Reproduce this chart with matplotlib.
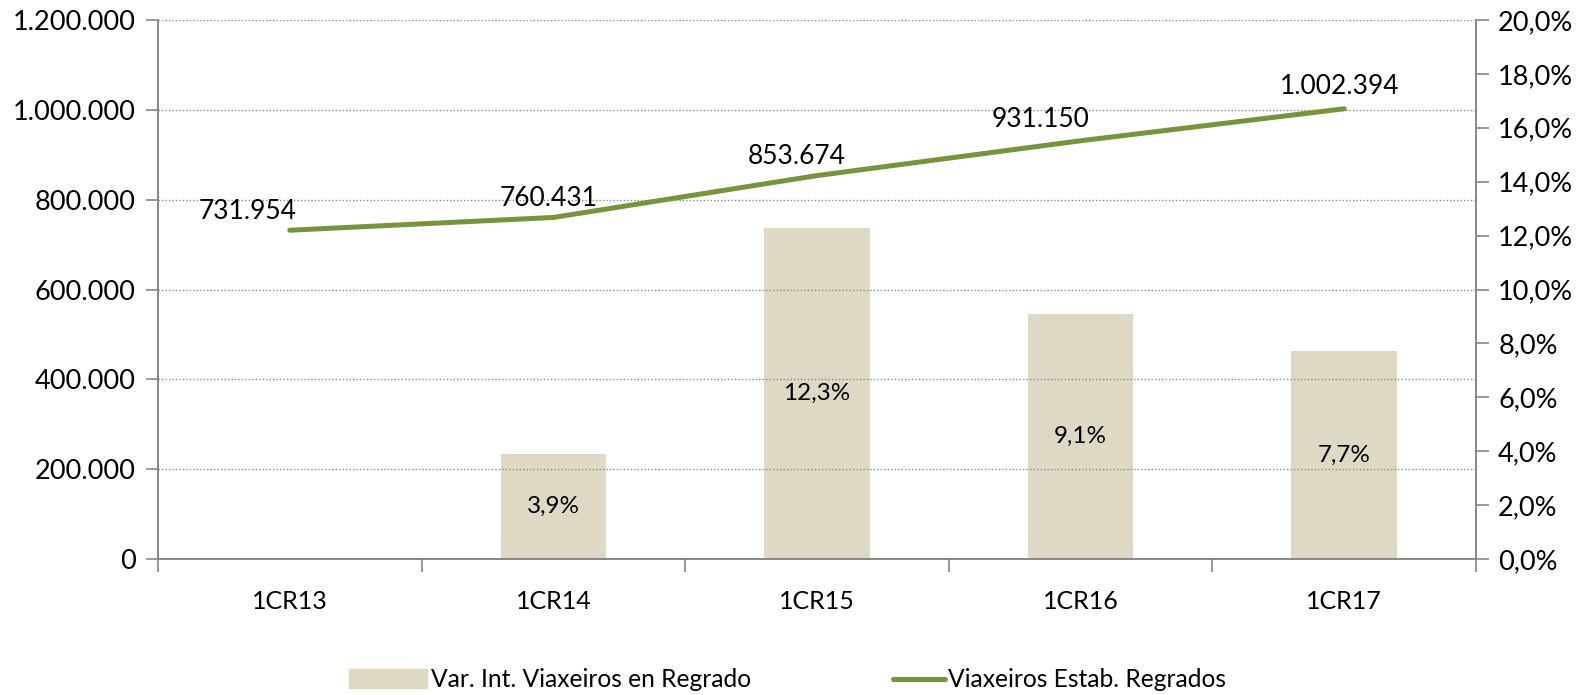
import matplotlib.pyplot as plt
import matplotlib.ticker as mticker
from matplotlib.patches import Patch
from matplotlib.lines import Line2D
import numpy as np

plt.rcParams['font.family'] = ['Lato', 'DejaVu Sans']

categories = ['1CR13', '1CR14', '1CR15', '1CR16', '1CR17']
varPct = [np.nan, 3.9, 12.3, 9.1, 7.7]   # Var. Int. Viaxeiros en Regrado (%)
viaxeiros = [731954, 760431, 853674, 931150, 1002394]
labelOffsets = [(-42, 19), (-5, 19), (-20, 19), (-40, 21), (-4, 22)]  # data label placement (px)

barColor = '#DDD9C4'
lineColor = '#77933C'
axisColor = '#868686'

def thousands(v, pos=None):
    return f'{int(round(v)):,}'.replace(',', '.')

fig = plt.figure(figsize=(15.91, 6.95), dpi=100)
ax = fig.add_axes([0.0993, 0.1957, 0.8284, 0.7755])
ax2 = ax.twinx()

x = np.arange(len(categories))

# bars on the secondary (percent) axis
bars = ax2.bar(x, varPct, width=0.4, color=barColor, zorder=2)
for xi, v in zip(x, varPct):
    if not np.isnan(v):
        ax2.text(xi, v / 2, f'{v:.1f}%'.replace('.', ','), ha='center', va='center',
                 fontsize=17.5, color='black', zorder=3)

# line on the primary axis, drawn above the bars
ax.set_zorder(ax2.get_zorder() + 1)
ax.patch.set_visible(False)
ax.plot(x, viaxeiros, color=lineColor, linewidth=3.6, solid_capstyle='round', zorder=4)
for xi, v, off in zip(x, viaxeiros, labelOffsets):
    ax.annotate(thousands(v), (xi, v), xytext=off, textcoords='offset pixels',
                ha='center', va='center', fontsize=19)

ax.set_xlim(-0.5, len(categories) - 0.5)
ax.set_ylim(0, 1200000)
ax.set_yticks(np.arange(0, 1200001, 200000))
ax.yaxis.set_major_formatter(mticker.FuncFormatter(thousands))
ax2.set_ylim(0, 20)
ax2.set_yticks(np.arange(0, 20.1, 2))
ax2.yaxis.set_major_formatter(mticker.FuncFormatter(lambda v, p: f'{v:.1f}%'.replace('.', ',')))

# gridlines at the left-axis ticks
ax.yaxis.grid(True, linestyle=(0, (1, 1.5)), color='#8c8c8c', linewidth=1)
ax.set_axisbelow(False)
ax2.grid(False)

# category ticks between bars
ax.set_xticks(x)
ax.set_xticklabels(categories, fontsize=18)
ax.set_xticks(np.arange(-0.5, len(categories), 1), minor=True)
ax.tick_params(axis='x', which='major', length=0, pad=22)
ax.tick_params(axis='x', which='minor', length=9, color=axisColor, width=1.2)
ax.tick_params(axis='y', length=9, color=axisColor, width=1.2, labelsize=19.5, pad=7)
ax2.tick_params(axis='y', length=9, color=axisColor, width=1.2, labelsize=19.5, pad=7)

for a in (ax, ax2):
    a.spines['top'].set_visible(False)
    for s in ('left', 'right', 'bottom'):
        a.spines[s].set_color(axisColor)
        a.spines[s].set_linewidth(1.2)

# legend
fig.legend(handles=[Patch(color=barColor)], labels=['Var. Int. Viaxeiros en Regrado'],
           loc='center left', bbox_to_anchor=(0.2115, 0.022), frameon=False,
           fontsize=17.7, handlelength=3.2, handleheight=0.8, handletextpad=0.15, borderpad=0)
fig.legend(handles=[Line2D([0], [0], color=lineColor, linewidth=3.6, solid_capstyle='round')],
           labels=['Viaxeiros Estab. Regrados'],
           loc='center left', bbox_to_anchor=(0.5535, 0.022), frameon=False,
           fontsize=17.7, handlelength=2.1, handletextpad=0.15, borderpad=0)

fig.savefig('out.png', dpi=100)
